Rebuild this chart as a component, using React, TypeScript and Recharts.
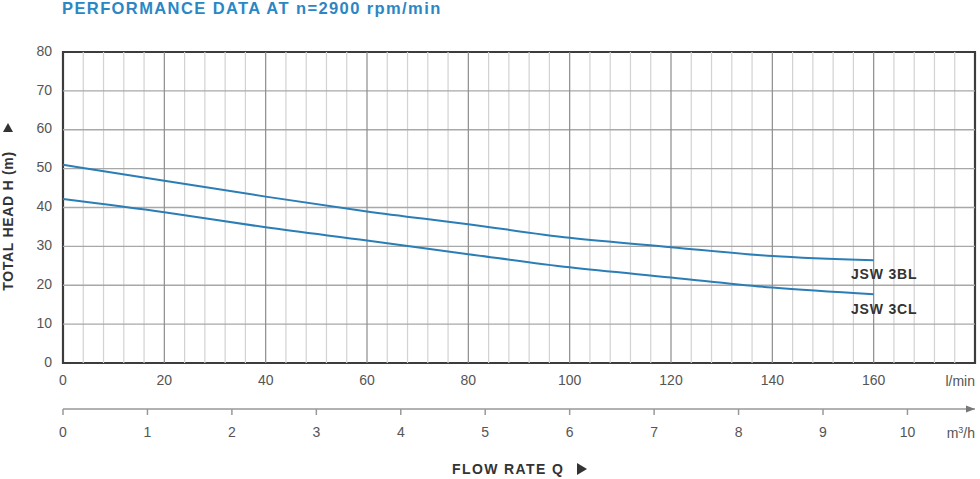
import React from 'react'
import {
  ComposedChart,
  Line,
  XAxis,
  YAxis,
  ReferenceLine,
  ReferenceArea,
} from 'recharts'

// flow rate in l/min and head in m
const flowLpm = [0, 20, 40, 60, 80, 100, 120, 140, 160]
const head3BL = [51, 46.9, 42.8, 39.0, 35.7, 32.2, 29.8, 27.5, 26.4]
const head3CL = [42.2, 38.8, 34.9, 31.5, 28.0, 24.6, 22.0, 19.4, 17.7]

const lpmTicks = [0, 20, 40, 60, 80, 100, 120, 140, 160]
const m3hTicks = [0, 1, 2, 3, 4, 5, 6, 7, 8, 9, 10]
const headTicks = [0, 10, 20, 30, 40, 50, 60, 70, 80]

const LINE = '#2b7db6'
const FONT = '"Liberation Sans", Arial, sans-serif'

const data = flowLpm.map((q, i) => ({ q, bl: head3BL[i], cl: head3CL[i] }))

const minorX: number[] = []
for (let v = 4; v < 180; v += 4) if (v % 20 !== 0) minorX.push(v)
const majorX = [20, 40, 60, 80, 100, 120, 140, 160]
const gridY = [10, 20, 30, 40, 50, 60, 70]

const LpmTick = ({ x, y, payload }: any) => (
  <text x={x} y={y + 10} textAnchor="middle" dominantBaseline="middle" fill="#555" fontSize={14} fontFamily={FONT}>
    {payload.value}
  </text>
)

const M3Tick = ({ x, y, payload }: any) => (
  <text x={x} y={y + 16} textAnchor="middle" dominantBaseline="middle" fill="#555" fontSize={14} fontFamily={FONT}>
    {payload.value}
  </text>
)

const HeadTick = ({ x, y, payload }: any) => (
  <text x={x - 3} y={y} textAnchor="end" dominantBaseline="middle" fill="#555" fontSize={14} fontFamily={FONT}>
    {payload.value}
  </text>
)

const AxisArrow = ({ viewBox }: any) => {
  if (!viewBox) return null
  const ex = viewBox.x + viewBox.width
  const ey = viewBox.y
  return <polygon points={`${ex - 9},${ey - 3.5} ${ex},${ey} ${ex - 9},${ey + 3.5}`} fill="#777" />
}

const boldText: React.CSSProperties = {
  position: 'absolute',
  fontFamily: FONT,
  fontWeight: 700,
  fontSize: 14,
  color: '#333',
  whiteSpace: 'nowrap',
  lineHeight: '16px',
}

export default function App() {
  return (
    <div style={{ position: 'absolute', left: 0, top: 0, width: 980, height: 479, background: '#fff', overflow: 'hidden' }}>
      <ComposedChart width={980} height={479} data={data} margin={{ top: 52, right: 5, left: 0, bottom: 0 }}>
        <XAxis
          xAxisId="lpm"
          type="number"
          dataKey="q"
          domain={[0, 180]}
          ticks={lpmTicks}
          height={46}
          axisLine={false}
          tickLine={false}
          tick={<LpmTick />}
        />
        <XAxis
          xAxisId="m3"
          type="number"
          dataKey="q"
          domain={[0, 10.8]}
          allowDataOverflow
          ticks={m3hTicks}
          height={70}
          axisLine={{ stroke: '#999', strokeWidth: 1.5 }}
          tickLine={{ stroke: '#999', strokeWidth: 1.5 }}
          tickSize={6}
          tick={<M3Tick />}
          label={<AxisArrow />}
        />
        <YAxis
          type="number"
          domain={[0, 80]}
          ticks={headTicks}
          width={63}
          axisLine={false}
          tickLine={false}
          tick={<HeadTick />}
        />
        {minorX.map((v) => (
          <ReferenceLine key={'mn' + v} xAxisId="lpm" x={v} stroke="#d2d2d2" strokeWidth={1.2} />
        ))}
        {gridY.map((v) => (
          <ReferenceLine key={'gy' + v} xAxisId="lpm" y={v} stroke="#a8a8a8" strokeWidth={1.4} />
        ))}
        {majorX.map((v) => (
          <ReferenceLine key={'mj' + v} xAxisId="lpm" x={v} stroke="#8c8c8c" strokeWidth={1.2} />
        ))}
        <Line
          xAxisId="lpm"
          type="monotone"
          dataKey="bl"
          stroke={LINE}
          strokeWidth={2}
          dot={false}
          isAnimationActive={false}
        />
        <Line
          xAxisId="lpm"
          type="monotone"
          dataKey="cl"
          stroke={LINE}
          strokeWidth={2}
          dot={false}
          isAnimationActive={false}
        />
        <ReferenceArea
          xAxisId="lpm"
          x1={0}
          x2={180}
          y1={0}
          y2={80}
          fill="none"
          fillOpacity={0}
          stroke="#3c3c3c"
          strokeWidth={2.2}
        />
      </ComposedChart>

      <div style={{ ...boldText, left: 62, top: -2, fontSize: 16.5, lineHeight: '20px', letterSpacing: 1.4, color: '#2b87c4' }}>
        PERFORMANCE DATA AT n=2900 rpm/min
      </div>

      <div style={{ ...boldText, left: 851, top: 266, letterSpacing: 0.8 }}>JSW 3BL</div>
      <div style={{ ...boldText, left: 851, top: 301, letterSpacing: 0.8 }}>JSW 3CL</div>

      <div style={{ ...boldText, fontWeight: 400, color: '#555', right: 5, top: 373, textAlign: 'right' }}>l/min</div>
      <div style={{ ...boldText, fontWeight: 400, color: '#555', right: 5, top: 425, fontSize: 14, textAlign: 'right' }}>
        m<sup style={{ fontSize: 9, verticalAlign: 'top', lineHeight: '10px' }}>3</sup>/h
      </div>

      <div
        style={{
          ...boldText,
          left: 8,
          top: 221,
          letterSpacing: 0.7,
          transform: 'translate(-50%, -50%) rotate(-90deg)',
        }}
      >
        TOTAL HEAD H (m)
      </div>
      <svg style={{ position: 'absolute', left: 2, top: 122 }} width={12} height={12}>
        <polygon points="6,1 11,10 1,10" fill="#333" />
      </svg>

      <div style={{ ...boldText, left: 452, top: 461, letterSpacing: 1.4 }}>FLOW RATE Q</div>
      <svg style={{ position: 'absolute', left: 576, top: 462 }} width={12} height={14}>
        <polygon points="1,1 11,7 1,13" fill="#333" />
      </svg>
    </div>
  )
}
